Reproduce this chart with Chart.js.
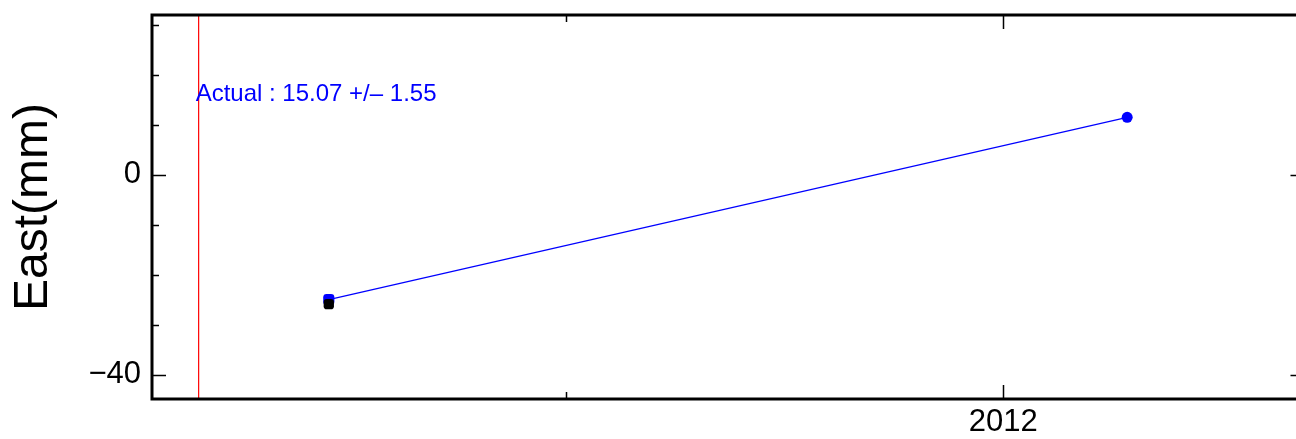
<!DOCTYPE html>
<html>
<head>
<meta charset="utf-8">
<script src="https://cdn.jsdelivr.net/npm/chart.js@4"></script>
<style>
  html, body { margin: 0; padding: 0; background: #fff; overflow: hidden; }
  #wrap { width: 1311px; height: 439px; }
</style>
</head>
<body>
<div id="wrap"><canvas id="grafico" width="1311" height="439"></canvas></div>
<script>
// datos (año decimal, mm)
const fechasAzul = [2011.228, 2012.142];
const esteAzul = [-25.0, 11.5];
const fechasNegro = [2011.228];
const esteNegro = [-25.9];
const fechaReferencia = 2011.079; // linea roja vertical
const textoActual = "Actual : 15.07 +/\u2013 1.55";
const textoY = 14.8; // altura del texto en mm

// ejes
const xMin = 2011.0256, xMax = 2012.345;
const yMin = -44.9, yMax = 32;
const xTicks = [2011.5, 2012];
const xEtiquetas = [2012];
const yTicks = [-40, -30, -20, -10, 0, 10, 20, 30];
const yEtiquetas = [-40, 0];

const fuente = "'Liberation Sans', Arial, Helvetica, sans-serif";

// marco y ticks hacia adentro, estilo matlab
const marcoPlugin = {
  id: "marco",
  afterDatasetsDraw(chart) {
    const { ctx, chartArea: a, scales } = chart;
    const x = scales.x, y = scales.y;
    ctx.save();
    ctx.strokeStyle = "#000";
    ctx.lineWidth = 1.5;
    xTicks.forEach((v) => {
      const px = Math.round(x.getPixelForValue(v)) + 0.5;
      const largo = xEtiquetas.includes(v) ? 14 : 7;
      ctx.beginPath();
      ctx.moveTo(px, a.top); ctx.lineTo(px, a.top + largo);
      ctx.moveTo(px, a.bottom); ctx.lineTo(px, a.bottom - largo);
      ctx.stroke();
    });
    yTicks.forEach((v) => {
      const py = Math.round(y.getPixelForValue(v)) + 0.5;
      const largo = yEtiquetas.includes(v) ? 14 : 7;
      ctx.beginPath();
      ctx.moveTo(a.left, py); ctx.lineTo(a.left + largo, py);
      ctx.moveTo(a.right, py); ctx.lineTo(a.right - largo, py);
      ctx.stroke();
    });
    ctx.lineWidth = 3;
    ctx.strokeRect(a.left, a.top, a.right - a.left, a.bottom - a.top);

    // texto de la tasa
    ctx.fillStyle = "#0000ff";
    ctx.font = "24px " + fuente;
    ctx.textAlign = "left";
    ctx.textBaseline = "alphabetic";
    ctx.fillText(textoActual, x.getPixelForValue(fechaReferencia) - 3, y.getPixelForValue(textoY));
    ctx.restore();
  },
};

const ctx = document.querySelector("#grafico");
new Chart(ctx, {
  type: "scatter",
  data: {
    datasets: [
      {
        label: "referencia",
        data: [{ x: fechaReferencia, y: yMin }, { x: fechaReferencia, y: yMax }],
        showLine: true,
        borderColor: "#ff0000",
        borderWidth: 1.2,
        pointRadius: 0,
      },
      {
        label: "negro",
        data: fechasNegro.map((f, i) => ({ x: f, y: esteNegro[i] })),
        backgroundColor: "#000",
        borderColor: "#000",
        pointStyle: "rectRounded",
        pointRadius: 6,
        borderWidth: 0,
      },
      {
        label: "este",
        data: fechasAzul.map((f, i) => ({ x: f, y: esteAzul[i] })),
        showLine: true,
        borderColor: "#0000ff",
        backgroundColor: "#0000ff",
        borderWidth: 1.2,
        pointStyle: ["rectRounded", "circle"],
        pointRadius: [6.5, 5.5],
        pointBorderWidth: 0,
      },
    ],
  },
  options: {
    responsive: false,
    animation: false,
    devicePixelRatio: 1,
    layout: { padding: { top: 15, right: 2, left: 0, bottom: 0 } },
    plugins: { legend: { display: false }, tooltip: { enabled: false } },
    scales: {
      x: {
        type: "linear",
        min: xMin,
        max: xMax,
        grid: { display: false, drawTicks: false },
        border: { display: false },
        afterBuildTicks: (s) => { s.ticks = xTicks.map((v) => ({ value: v })); },
        afterFit: (s) => { s.height = 40; },
        ticks: {
          maxRotation: 0,
          autoSkip: false,
          padding: 5,
          color: "#000",
          font: { family: fuente, size: 31 },
          callback: (v) => (xEtiquetas.includes(v) ? String(v) : ""),
        },
      },
      y: {
        min: yMin,
        max: yMax,
        grid: { display: false, drawTicks: false },
        border: { display: false },
        afterBuildTicks: (s) => { s.ticks = yTicks.map((v) => ({ value: v })); },
        afterFit: (s) => { s.width = 152; },
        title: {
          display: true,
          text: "East(mm)",
          color: "#000",
          font: { family: fuente, size: 48 },
          padding: { top: 5, bottom: 0 },
        },
        ticks: {
          autoSkip: false,
          padding: 11,
          color: "#000",
          font: { family: fuente, size: 31, lineHeight: 0.1 },
          callback: (v) => (yEtiquetas.includes(v) ? (v < 0 ? "\u2212" + Math.abs(v) : String(v)) : ""),
        },
      },
    },
  },
  plugins: [marcoPlugin],
});
</script>
</body>
</html>
